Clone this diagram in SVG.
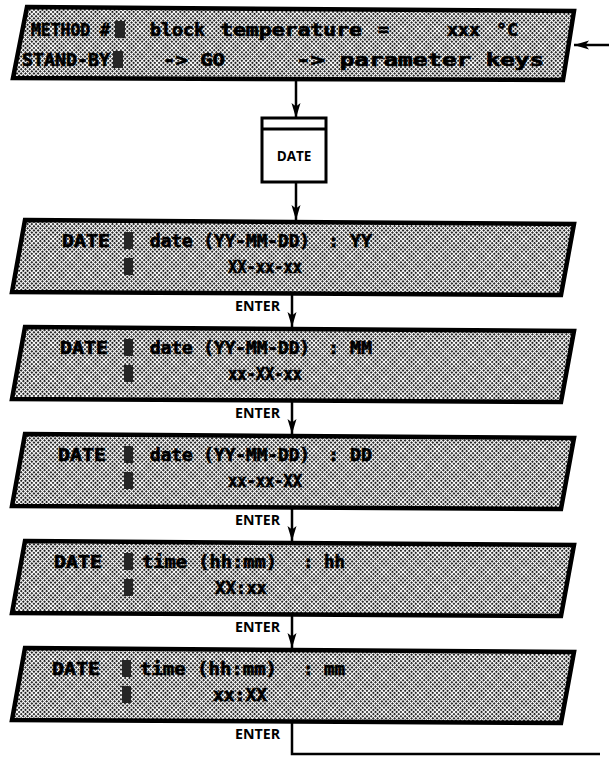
<svg xmlns="http://www.w3.org/2000/svg" width="609" height="760" viewBox="0 0 609 760">
<defs>
<pattern id="ht" width="3" height="3" patternUnits="userSpaceOnUse" patternTransform="rotate(45)">
<rect width="3" height="3" fill="#fff"/>
<rect width="1.9" height="1.9" fill="#111"/>
</pattern>
<marker id="ah" markerUnits="userSpaceOnUse" markerWidth="16" markerHeight="10" refX="15" refY="5" orient="auto">
<path d="M0,0.5 L15,5 L0,9.5 L3.5,5 z" fill="#000"/>
</marker>
</defs>
<style>
.panel{fill:url(#ht);stroke:#000;stroke-width:4.5;stroke-linejoin:miter}
.lcd{font-family:"DejaVu Sans Mono","Liberation Mono",monospace;font-weight:bold;font-size:18px;fill:#000;stroke:#000;stroke-width:0.7}
.blk{fill:#262626}
.lbl{font-family:"Open Sans","Liberation Sans",sans-serif;font-weight:bold;font-size:13.5px;fill:#000}
.con{fill:none;stroke:#000;stroke-width:2.5}
.box{fill:#fff;stroke:#000;stroke-width:3}
</style>

<g id="connectors">
<path class="con" d="M296,81 V118" marker-end="url(#ah)"/>
<path class="con" d="M296,182 V220" marker-end="url(#ah)"/>
<path class="con" d="M292,294 V327" marker-end="url(#ah)"/>
<path class="con" d="M292,401 V434" marker-end="url(#ah)"/>
<path class="con" d="M292,508 V541" marker-end="url(#ah)"/>
<path class="con" d="M292,615 V648" marker-end="url(#ah)"/>
<path class="con" d="M292,722 V754 H600"/>
<path class="con" d="M609,45 H574" marker-end="url(#ah)"/>
<text class="lbl" x="235" y="311" textLength="45" lengthAdjust="spacingAndGlyphs">ENTER</text>
<text class="lbl" x="235" y="418" textLength="45" lengthAdjust="spacingAndGlyphs">ENTER</text>
<text class="lbl" x="235" y="525" textLength="45" lengthAdjust="spacingAndGlyphs">ENTER</text>
<text class="lbl" x="235" y="632" textLength="45" lengthAdjust="spacingAndGlyphs">ENTER</text>
<text class="lbl" x="235" y="739" textLength="45" lengthAdjust="spacingAndGlyphs">ENTER</text>
</g>

<g id="standby">
<path class="panel" d="M27,7 L574,11 L563,80 L13,78 Z"/>
<text class="lcd" x="31" y="36" textLength="79" lengthAdjust="spacingAndGlyphs">METHOD #</text>
<rect class="blk" x="115" y="21" width="10" height="17"/>
<text class="lcd" x="150" y="36" textLength="55" lengthAdjust="spacingAndGlyphs">block</text>
<text class="lcd" x="220" y="36" textLength="142" lengthAdjust="spacingAndGlyphs">temperature</text>
<text class="lcd" x="378" y="36">=</text>
<text class="lcd" x="447" y="36" textLength="33" lengthAdjust="spacingAndGlyphs">xxx</text>
<text class="lcd" x="496" y="36" textLength="22" lengthAdjust="spacingAndGlyphs">°C</text>
<text class="lcd" x="22" y="66" textLength="88" lengthAdjust="spacingAndGlyphs">STAND-BY</text>
<rect class="blk" x="113" y="51" width="10" height="17"/>
<text class="lcd" x="163" y="66" textLength="62" lengthAdjust="spacingAndGlyphs">-&gt; GO</text>
<text class="lcd" x="296" y="66" textLength="248" lengthAdjust="spacingAndGlyphs">-&gt; parameter keys</text>
</g>

<g id="date-key">
<rect class="box" x="262" y="118" width="64" height="64"/>
<line x1="262" y1="129" x2="326" y2="129" stroke="#000" stroke-width="3"/>
<text class="lbl" x="294" y="161" text-anchor="middle" font-size="14">DATE</text>
</g>

<g id="date-yy">
<path class="panel" d="M25,220 L574,224 L561,295 L12,292 Z"/>
<text class="lcd" x="62" y="247" textLength="48" lengthAdjust="spacingAndGlyphs">DATE</text>
<rect class="blk" x="124" y="232" width="9" height="17"/>
<rect class="blk" x="124" y="258" width="9" height="17"/>
<text class="lcd" x="150" y="247" textLength="160" lengthAdjust="spacingAndGlyphs">date (YY-MM-DD)</text>
<text class="lcd" x="328" y="247" textLength="44" lengthAdjust="spacingAndGlyphs">: YY</text>
<text class="lcd" x="228" y="273" textLength="74" lengthAdjust="spacingAndGlyphs">XX-xx-xx</text>
</g>

<g id="date-mm">
<path class="panel" d="M25,327 L574,331 L561,402 L12,399 Z"/>
<text class="lcd" x="60" y="354" textLength="48" lengthAdjust="spacingAndGlyphs">DATE</text>
<rect class="blk" x="124" y="339" width="9" height="17"/>
<rect class="blk" x="124" y="365" width="9" height="17"/>
<text class="lcd" x="150" y="354" textLength="160" lengthAdjust="spacingAndGlyphs">date (YY-MM-DD)</text>
<text class="lcd" x="328" y="354" textLength="44" lengthAdjust="spacingAndGlyphs">: MM</text>
<text class="lcd" x="228" y="380" textLength="74" lengthAdjust="spacingAndGlyphs">xx-XX-xx</text>
</g>

<g id="date-dd">
<path class="panel" d="M25,434 L574,438 L561,509 L12,506 Z"/>
<text class="lcd" x="58" y="461" textLength="48" lengthAdjust="spacingAndGlyphs">DATE</text>
<rect class="blk" x="124" y="446" width="9" height="17"/>
<rect class="blk" x="124" y="472" width="9" height="17"/>
<text class="lcd" x="150" y="461" textLength="160" lengthAdjust="spacingAndGlyphs">date (YY-MM-DD)</text>
<text class="lcd" x="328" y="461" textLength="44" lengthAdjust="spacingAndGlyphs">: DD</text>
<text class="lcd" x="228" y="487" textLength="74" lengthAdjust="spacingAndGlyphs">xx-xx-XX</text>
</g>

<g id="time-hh">
<path class="panel" d="M25,541 L574,545 L561,616 L12,613 Z"/>
<text class="lcd" x="54" y="568" textLength="48" lengthAdjust="spacingAndGlyphs">DATE</text>
<rect class="blk" x="124" y="553" width="9" height="17"/>
<rect class="blk" x="124" y="579" width="9" height="17"/>
<text class="lcd" x="142" y="568" textLength="135" lengthAdjust="spacingAndGlyphs">time (hh:mm)</text>
<text class="lcd" x="303" y="568" textLength="42" lengthAdjust="spacingAndGlyphs">: hh</text>
<text class="lcd" x="215" y="594" textLength="52" lengthAdjust="spacingAndGlyphs">XX:xx</text>
</g>

<g id="time-mm">
<path class="panel" d="M25,648 L574,652 L561,723 L12,720 Z"/>
<text class="lcd" x="52" y="675" textLength="48" lengthAdjust="spacingAndGlyphs">DATE</text>
<rect class="blk" x="122" y="660" width="9" height="17"/>
<rect class="blk" x="122" y="686" width="9" height="17"/>
<text class="lcd" x="140" y="675" textLength="137" lengthAdjust="spacingAndGlyphs">time (hh:mm)</text>
<text class="lcd" x="303" y="675" textLength="42" lengthAdjust="spacingAndGlyphs">: mm</text>
<text class="lcd" x="213" y="701" textLength="54" lengthAdjust="spacingAndGlyphs">xx:XX</text>
</g>
</svg>
